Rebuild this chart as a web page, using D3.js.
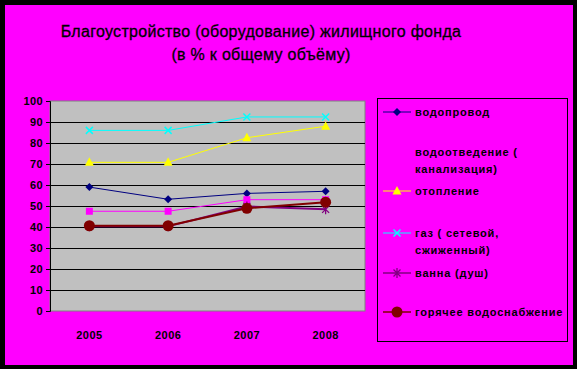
<!DOCTYPE html>
<html>
<head>
<meta charset="utf-8">
<script src="https://cdn.jsdelivr.net/npm/d3@7"></script>
<style>
  body { margin: 0; background: #000; }
  svg { display: block; font-family: "Liberation Sans", Arial, sans-serif; }
</style>
</head>
<body>
<svg width="577" height="369"></svg>
<script>
// данные графика
const years = ["2005", "2006", "2007", "2008"];
const yTicks = [0, 10, 20, 30, 40, 50, 60, 70, 80, 90, 100];
const titleLines = ["Благоустройство (оборудование) жилищного фонда", "(в % к общему объёму)"];

const vodoprovod = [59, 53.2, 56, 57];
const vodootvedenie = [47.5, 47.5, 53, 53];
const otoplenie = [70.8, 70.8, 82.5, 88];
const gaz = [86, 86, 92.4, 92.4];
const vanna = [40.3, 40.3, 49.8, 48.4];
const goryachee = [40.6, 40.6, 48.9, 51.8];

const seriesNames = [
  ["водопровод"],
  ["водоотведение (", "канализация)"],
  ["отопление"],
  ["газ ( сетевой,", "сжиженный)"],
  ["ванна (душ)"],
  ["горячее водоснабжение"],
];

const series = [
  { name: seriesNames[0], values: vodoprovod, color: "#000080", marker: "diamond", width: 1 },
  { name: seriesNames[1], values: vodootvedenie, color: "#FF00FF", marker: "square", width: 1 },
  { name: seriesNames[2], values: otoplenie, color: "#FFFF00", marker: "triangle", width: 1 },
  { name: seriesNames[3], values: gaz, color: "#00FFFF", marker: "x", width: 1 },
  { name: seriesNames[4], values: vanna, color: "#800080", marker: "star", width: 2 },
  { name: seriesNames[5], values: goryachee, color: "#800000", marker: "circle", width: 2 },
];

const svg = d3.select("svg");

// фон и рамка
svg.append("rect").attr("width", 577).attr("height", 369).attr("fill", "#000");
svg.append("rect").attr("x", 5).attr("y", 5).attr("width", 568).attr("height", 360).attr("fill", "#FF00FF");

// заголовок
svg.selectAll(".title")
  .data(titleLines)
  .enter()
  .append("text")
  .attr("class", "title")
  .attr("x", 261)
  .attr("y", (d, i) => 37 + i * 23)
  .attr("text-anchor", "middle")
  .attr("font-size", 16)
  .attr("letter-spacing", 0.3)
  .attr("fill", "#000")
  .attr("stroke", "#000")
  .attr("stroke-width", 0.3)
  .text((d) => d);

const area = { left: 50, top: 101, width: 315, height: 210 };

const scX = d3.scaleBand().domain(years).range([0, area.width]);
const scY = d3.scaleLinear().domain([0, 100]).range([area.height, 0]);

const g = svg.append("g").attr("transform", `translate(${area.left}, ${area.top})`);

g.append("rect")
  .attr("width", area.width)
  .attr("height", area.height)
  .attr("fill", "#C0C0C0")
  .attr("stroke", "#808080");

// сетка
g.selectAll(".grid")
  .data(yTicks.filter((t) => t > 0 && t < 100))
  .enter()
  .append("line")
  .attr("x1", 0)
  .attr("x2", area.width)
  .attr("y1", (d) => Math.round(scY(d)) + 0.5)
  .attr("y2", (d) => Math.round(scY(d)) + 0.5)
  .attr("stroke", "#000");

// ось Y
const axisY = g.append("g")
  .call(d3.axisLeft(scY).tickValues(yTicks).tickSize(4).tickPadding(3));
axisY.select(".domain").attr("stroke", "#000");
axisY.selectAll("text")
  .attr("font-size", 11)
  .attr("font-weight", "bold")
  .attr("letter-spacing", 0.4)
  .attr("font-family", "Liberation Sans, Arial, sans-serif")
  .attr("fill", "#000");

// ось X (только подписи)
const axisX = g.append("g")
  .attr("transform", `translate(0, ${area.height})`)
  .call(d3.axisBottom(scX).tickSize(0).tickPadding(20));
axisX.select(".domain").remove();
axisX.selectAll("text")
  .attr("font-size", 11)
  .attr("font-weight", "bold")
  .attr("letter-spacing", 0.4)
  .attr("font-family", "Liberation Sans, Arial, sans-serif")
  .attr("fill", "#000");

function drawMarker(sel, type, color) {
  if (type === "diamond") {
    sel.append("path").attr("d", "M0,-4L4,0L0,4L-4,0Z").attr("fill", color);
  } else if (type === "square") {
    sel.append("rect").attr("x", -3.5).attr("y", -3.5).attr("width", 7).attr("height", 7).attr("fill", color);
  } else if (type === "triangle") {
    sel.append("path").attr("d", "M0,-5L4.5,3.5L-4.5,3.5Z").attr("fill", color);
  } else if (type === "x") {
    sel.append("path").attr("d", "M-3.5,-3.5L3.5,3.5M-3.5,3.5L3.5,-3.5").attr("stroke", color).attr("stroke-width", 1.5);
  } else if (type === "star") {
    sel.append("path").attr("d", "M-3.5,-3.5L3.5,3.5M-3.5,3.5L3.5,-3.5M0,-5L0,5").attr("stroke", color).attr("stroke-width", 1.3);
  } else if (type === "circle") {
    sel.append("circle").attr("r", 5.5).attr("fill", color);
  }
}

const line = d3.line()
  .x((d, i) => scX(years[i]) + scX.bandwidth() / 2)
  .y((d) => scY(d));

series.forEach((s) => {
  g.append("path")
    .attr("d", line(s.values))
    .attr("fill", "none")
    .attr("stroke", s.color)
    .attr("stroke-width", s.width);
  s.values.forEach((v, i) => {
    const m = g.append("g")
      .attr("transform", `translate(${scX(years[i]) + scX.bandwidth() / 2}, ${scY(v)})`);
    drawMarker(m, s.marker, s.color);
  });
});

// легенда
const legendRows = [112, 152, 191, 233, 273, 312];
svg.append("rect")
  .attr("x", 377.5).attr("y", 98.5).attr("width", 190).attr("height", 243)
  .attr("fill", "none").attr("stroke", "#000");

series.forEach((s, i) => {
  const row = svg.append("g").attr("transform", `translate(383, ${legendRows[i]})`);
  row.append("line").attr("x1", 0).attr("x2", 28).attr("y1", 0).attr("y2", 0)
    .attr("stroke", s.color).attr("stroke-width", s.width === 2 ? 1.5 : 1);
  const m = row.append("g").attr("transform", "translate(14, 0)");
  drawMarker(m, s.marker, s.color);
  row.selectAll("text")
    .data(s.name)
    .enter()
    .append("text")
    .attr("x", 32)
    .attr("y", (d, j) => 4 + j * 17)
    .attr("font-size", 11)
    .attr("font-weight", "bold")
    .attr("letter-spacing", 0.8)
    .attr("fill", "#000")
    .text((d) => d);
});
</script>
</body>
</html>
